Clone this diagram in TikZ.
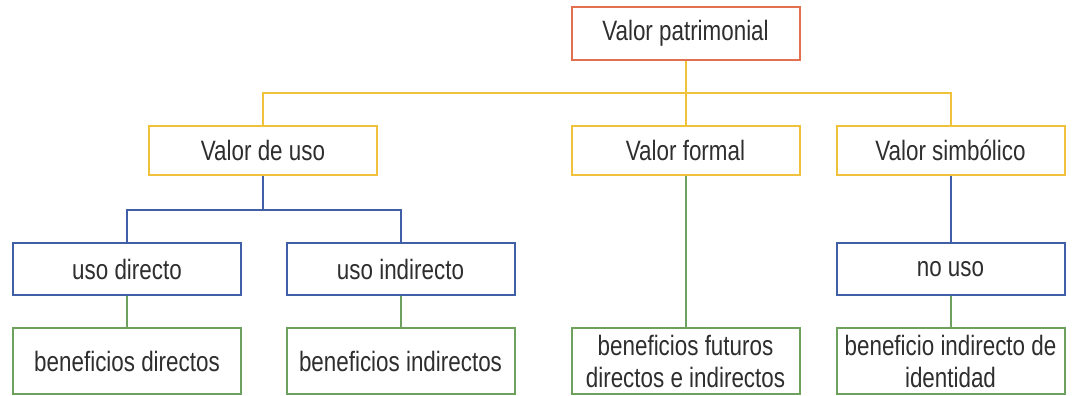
\documentclass[tikz,border=0pt]{standalone}
\usepackage{fontspec}
\setmainfont[FakeStretch=0.8]{Liberation Sans}
\usepackage{tikz}
\usetikzlibrary{positioning}
\definecolor{rojo}{HTML}{E2704E}
\definecolor{amarillo}{HTML}{F0C23C}
\definecolor{azul}{HTML}{3F5FA6}
\definecolor{verde}{HTML}{6FA15E}
\definecolor{texto}{HTML}{2E2E2E}

\begin{document}
\begin{tikzpicture}[x=0.5pt, y=-0.5pt,
  caja/.style={draw, line width=1pt, fill=white, text=texto, align=center,
    font=\fontsize{14}{16}\selectfont, minimum width=114pt, inner sep=0pt},
  raiz/.style={caja, draw=rojo, minimum height=26.5pt},
  valor/.style={caja, draw=amarillo, minimum height=24.5pt},
  uso/.style={caja, draw=azul, minimum height=26pt},
  benef/.style={caja, draw=verde, minimum height=33pt},
  lineay/.style={amarillo, line width=1pt},
  lineab/.style={azul, line width=1pt},
  lineag/.style={verde, line width=1pt}]
\useasboundingbox (0,0) rectangle (1084,396);
\coordinate (ybar) at (0,93);
\coordinate (bbar) at (0,210);
\node (patr)   at (685.5,33.5) [raiz]  {Valor patrimonial};
\node (vuso)   at (263,150.5)  [valor] {Valor de uso};
\node (vform)  at (685.5,150.5)[valor] {Valor formal};
\node (vsimb)  at (950.5,150.5)[valor] {Valor simbólico};
\node (udir)   at (127,269)    [uso]   {uso directo};
\node (uind)   at (400.5,269)  [uso]   {uso indirecto};
\node (nouso)  at (950.5,269)  [uso]   {no uso};
\node (bdir)   at (127,361)    [benef] {beneficios directos};
\node (bind)   at (400.5,361)  [benef] {beneficios indirectos};
\node (bfut)   at (685.5,361)  [benef] {beneficios futuros\\directos e indirectos};
\node (bident) at (950.5,361)  [benef] {beneficio indirecto de\\identidad};
\draw[lineay] (vuso.north) |- (ybar -| patr.south) -| (vsimb.north);
\draw[lineay] (patr.south) -- (vform.north);
\draw[lineab] (vuso.south) -- (vuso.south |- bbar);
\draw[lineab] (udir.north) |- (bbar -| vuso.south) -| (uind.north);
\draw[lineab] (vsimb.south) -- (nouso.north);
\draw[lineag] (udir.south) -- (bdir.north);
\draw[lineag] (uind.south) -- (bind.north);
\draw[lineag] (vform.south) -- (bfut.north);
\draw[lineag] (nouso.south) -- (bident.north);
\end{tikzpicture}
\end{document}
